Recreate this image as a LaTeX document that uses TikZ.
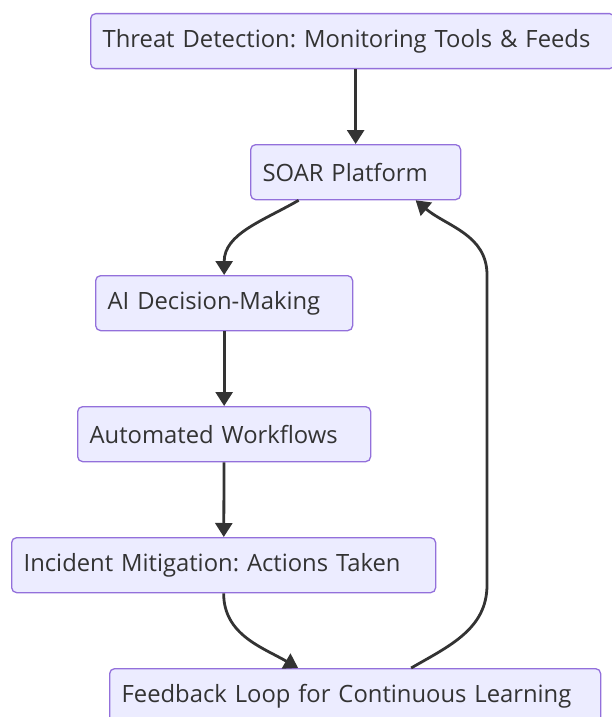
\documentclass[tikz,border=0pt]{standalone}
\usepackage{fontspec}
\setmainfont{Open Sans}
\usetikzlibrary{arrows.meta, positioning}

\definecolor{boxfill}{HTML}{ECECFF}
\definecolor{boxline}{HTML}{9370DB}
\definecolor{ink}{HTML}{333333}

\frenchspacing

\begin{document}
\begin{tikzpicture}[x=1pt, y=-1pt,
    >={Triangle[length=14pt,width=17pt]},
    line width=2.8pt,
    every node/.style={font=\fontsize{23.8}{29}\selectfont, text=ink},
    stage/.style={draw=boxline, line width=1.3pt, fill=boxfill,
        rounded corners=5pt, anchor=north west, minimum height=55pt,
        inner xsep=12pt, inner ysep=0pt, align=left, text width=#1}]

    \useasboundingbox (0,0) rectangle (611,717);

    \node[stage=500pt] (detect)   at (90,13)   {Threat Detection: Monitoring Tools \& Feeds};
    \node[stage=186pt] (soar)     at (250,144) {SOAR Platform};
    \node[stage=233pt] (ai)       at (95,275)  {AI Decision-Making};
    \node[stage=269pt] (flows)    at (77,406)  {Automated Workflows};
    \node[stage=400pt] (mitigate) at (11,537)  {Incident Mitigation: Actions Taken};
    \node[stage=467pt] (feedback) at (109,668) {Feedback Loop for Continuous Learning};

    % side rail of the learning loop
    \coordinate (rail low)  at (487,585);
    \coordinate (rail high) at (487,275);

    \path[->, ink]
    (soar.north |- detect.south)  edge                    (soar.north)
    ([xshift=-57pt]soar.south)    edge [out=-150, in=90]  (ai.north)
    (ai)                          edge                    (flows)
    (flows)                       edge                    (mitigate)
    (mitigate.south)              edge [out=-90, in=150]  ([xshift=-57pt]feedback.north)
    ;

    \draw[->, ink] ([xshift=56pt]feedback.north) to[out=30, in=-90] (rail low)
        -- (rail high) to[out=90, in=-40] ([xshift=60pt]soar.south);
\end{tikzpicture}
\end{document}
